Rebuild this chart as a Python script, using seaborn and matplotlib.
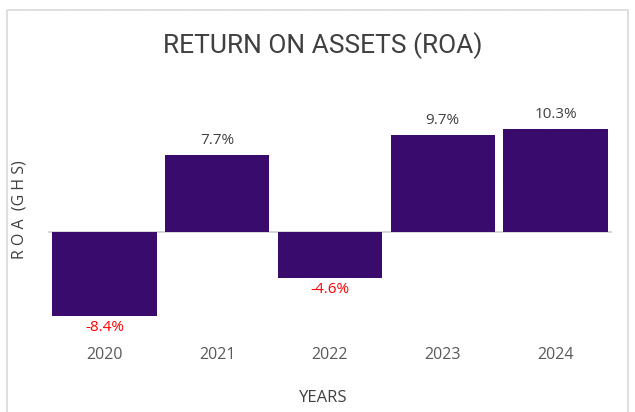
import matplotlib
matplotlib.use("Agg")
import matplotlib.pyplot as plt
import seaborn as sns
import pandas as pd
from matplotlib.patches import Rectangle

# chart values
years = ["2020", "2021", "2022", "2023", "2024"]
roa = [-8.4, 7.7, -4.6, 9.7, 10.3]
labels = ["-8.4%", "7.7%", "-4.6%", "9.7%", "10.3%"]

df = pd.DataFrame({"Year": years, "ROA": roa})

sns.set_theme(style="white")
plt.rcParams["font.family"] = ["Open Sans", "DejaVu Sans"]

fig = plt.figure(figsize=(6.35, 4.12), dpi=100)

# faint dotted background + light border
bg = fig.add_axes([0, 0, 1, 1], zorder=0)
bg.set_xlim(0, 635)
bg.set_ylim(412, 0)
for x in range(12, 635, 10):
    bg.axvline(x, color="#ececec", lw=0.6, ls=(0, (0.6, 9.4)))
bg.add_patch(Rectangle((7, 10), 621, 410, fill=False, ec="#d9d9d9", lw=1.2))
bg.axis("off")

# plot area: x 48..612 px, y 100..330 px
ax = fig.add_axes([48 / 635, 1 - 330 / 412, 564 / 635, 230 / 412], zorder=1)
ax.patch.set_alpha(0)
sns.barplot(data=df, x="Year", y="ROA", color="#390b6c", saturation=1,
            width=0.925, linewidth=0, ax=ax)
ax.set_ylim(-9.8, 13.2)
ax.axhline(0, color="#d0d0d0", lw=1.2, zorder=0.5)

for i, (v, lab) in enumerate(zip(roa, labels)):
    if v < 0:
        ax.annotate(lab, (i, v), xytext=(0, -3), textcoords="offset points",
                    ha="center", va="top", color="#ff0000", fontsize=11)
    else:
        ax.annotate(lab, (i, v), xytext=(0, 5), textcoords="offset points",
                    ha="center", va="bottom", color="#404040", fontsize=11)

for s in ax.spines.values():
    s.set_visible(False)
ax.set_yticks([])
ax.tick_params(axis="x", length=0, pad=12, labelsize=11.5, labelcolor="#595959")
ax.set_xlabel("")
ax.set_ylabel("")

fig.text(323 / 635, 1 - 46 / 412, "RETURN ON ASSETS (ROA)", ha="center",
         va="center", fontsize=19, color="#404040",
         family=["Roboto", "DejaVu Sans"])
fig.text(20 / 635, 1 - 210 / 412, "R O A  (G H S)", rotation=90, ha="center",
         va="center", fontsize=11.5, color="#404040")
fig.text(323 / 635, 1 - 398 / 412, "YEARS", ha="center", va="center",
         fontsize=12, color="#404040")

fig.savefig("out.png", dpi=100)
